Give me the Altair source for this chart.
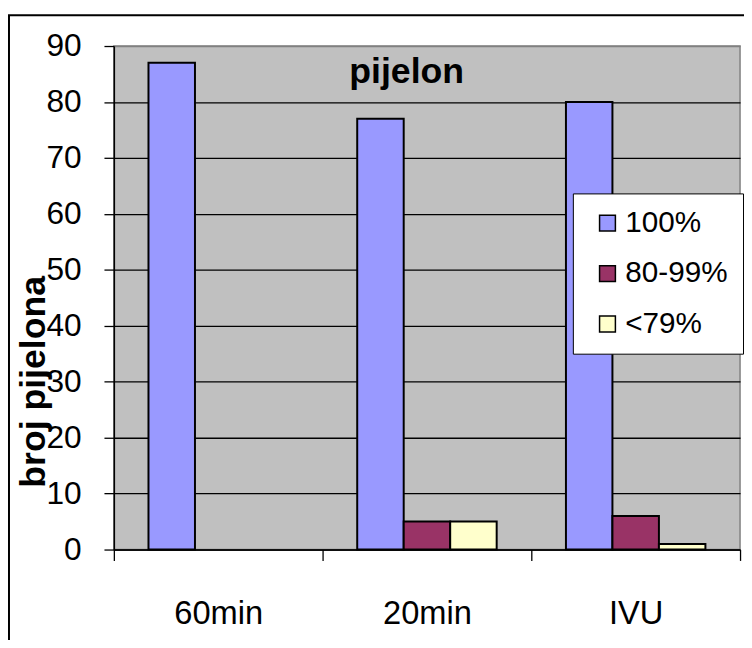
import altair as alt
import pandas as pd

categories = ["60min", "20min", "IVU"]
series = ["100%", "80-99%", "<79%"]
v100 = [87, 77, 80]
v80 = [0, 5, 6]
v79 = [0, 5, 1]
colors = ["#9999FF", "#993366", "#FFFFCC"]
y_ticks = [0, 10, 20, 30, 40, 50, 60, 70, 80, 90]

rows = []
for i, c in enumerate(categories):
    for s, vals in zip(series, [v100, v80, v79]):
        rows.append({"cat": c, "series": s, "value": vals[i]})
df = pd.DataFrame(rows)

FONT = "Liberation Sans"
W, H = 633, 509

bars = alt.Chart(df).transform_filter("datum.value > 0").mark_bar(stroke="black", strokeWidth=2).encode(
    x=alt.X("cat:N", sort=categories,
            scale=alt.Scale(domain=categories, paddingInner=0, paddingOuter=0),
            axis=alt.Axis(title=None, labelAngle=0, labelFontSize=33, labelFont=FONT,
                          labelColor="black", labelPadding=38, tickBand="extent",
                          tickSize=11, tickColor="black", tickWidth=1.3,
                          domainColor="black", domainWidth=1.5, grid=False)),
    xOffset=alt.XOffset("series:N", sort=series,
                        scale=alt.Scale(domain=series, paddingInner=0, paddingOuter=0.745)),
    y=alt.Y("value:Q", scale=alt.Scale(domain=[0, 90], nice=False, zero=True),
            axis=alt.Axis(title="broj pijelona", values=y_ticks, labelFontSize=32,
                          labelFont=FONT, labelColor="black", labelPadding=23,
                          tickSize=10, tickColor="black", tickWidth=1.3,
                          domainColor="black", domainWidth=1.5,
                          grid=True, gridColor={"condition": {"test": "datum.value == 90", "value": "#808080"}, "value": "black"},
                          gridWidth=1.3,
                          titleFont=FONT, titleFontSize=36, titleFontWeight="bold",
                          titleColor="black", titleAngle=270, titleAlign="center",
                          titleBaseline="alphabetic", titleX=-70, titleY=339)),
    color=alt.Color("series:N", sort=series,
                    scale=alt.Scale(domain=series, range=colors),
                    legend=alt.Legend(title=None, orient="none", legendX=464, legendY=149,
                                      fillColor="white", strokeColor="black",
                                      padding=15, symbolType="square", symbolSize=256,
                                      symbolStrokeColor="black", symbolStrokeWidth=1.5,
                                      symbolOffset=5, labelFont=FONT, labelFontSize=30,
                                      labelColor="black", labelOffset=3, rowPadding=21)),
)

frame = alt.Chart(pd.DataFrame({"k": [0]})).mark_rect(
    filled=False, stroke="black", strokeWidth=2
).encode(x=alt.value(-106), x2=alt.value(W + 40), y=alt.value(-31), y2=alt.value(H + 200))

title = alt.Chart(pd.DataFrame({"t": ["pijelon"]})).mark_text(
    font=FONT, fontSize=36, fontWeight="bold", color="black", align="center",
    baseline="alphabetic"
).encode(text="t:N", x=alt.value(296), y=alt.value(37))

chart = alt.layer(frame, bars, title).properties(
    width=W, height=H,
    autosize=alt.AutoSizeParams(type="none"),
    padding={"left": 107, "top": 35, "right": 4, "bottom": 88},
).configure_view(fill="#C0C0C0", stroke="#808080", strokeWidth=1.5)

chart.save("out.html", embed_options={"renderer": "svg", "actions": False})
